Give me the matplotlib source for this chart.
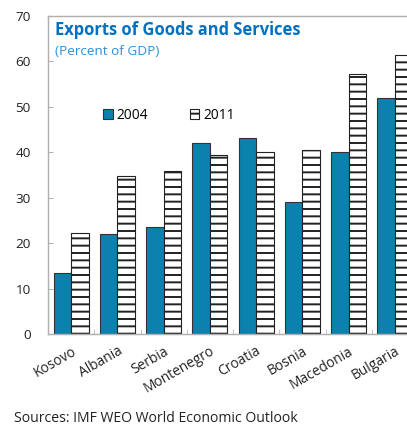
import matplotlib
matplotlib.use('Agg')
import matplotlib.pyplot as plt
import numpy as np

paises = ['Kosovo', 'Albania', 'Serbia', 'Montenegro', 'Croatia',
          'Bosnia', 'Macedonia', 'Bulgaria']
exp_2004 = [13.4, 22.0, 23.6, 42.1, 43.2, 29.1, 40.1, 52.0]
exp_2011 = [22.2, 34.8, 35.9, 39.4, 40.1, 40.5, 57.3, 61.4]
anos = ['2004', '2011']

COR_AZUL = '#0B82AD'
COR_TITULO = '#0070C0'
COR_SUB = '#2E8FD8'
COR_EIXO = '#B0B0B0'
COR_TEXTO = '#222222'

DPI = 88
plt.rcParams['font.family'] = ['Open Sans', 'DejaVu Sans']
plt.rcParams['hatch.linewidth'] = 1.6

fig = plt.figure(figsize=(407 / DPI, 429 / DPI), dpi=DPI)
W, H = 407, 429
ax = fig.add_axes([48 / W, 1 - 334 / H, 370 / W, 318 / H])

x = np.arange(len(paises))
w = 0.38
ax.bar(x - w / 2, exp_2004, w, color=COR_AZUL, edgecolor='#333333',
       linewidth=0.9, label=anos[0])
ax.bar(x + w / 2, exp_2011, w, color='white', edgecolor='#222222',
       linewidth=0.9, hatch='--', label=anos[1])

ax.set_xlim(-0.5, len(paises) - 0.5)
ax.set_ylim(0, 70)
ax.set_yticks(range(0, 71, 10))
ax.set_xticks(x)
ax.set_xticklabels(paises, rotation=30, ha='right', rotation_mode='anchor',
                   fontsize=11.3, color=COR_TEXTO)
ax.set_xticks(x[:-1] + 0.5, minor=True)
ax.tick_params(axis='x', which='major', length=0, pad=8)
ax.tick_params(axis='x', which='minor', direction='in', length=4,
               color=COR_EIXO)
ax.tick_params(axis='y', direction='in', length=4, color=COR_EIXO,
               labelsize=11, labelcolor=COR_TEXTO, pad=14)
for s in ax.spines.values():
    s.set_color(COR_EIXO)
    s.set_linewidth(1.2)

ax.text(0.018, 0.985, 'Exports of Goods and Services', transform=ax.transAxes,
        fontsize=13.5, fontweight='bold', color=COR_TITULO, va='top')
ax.text(0.018, 0.91, '(Percent of GDP)', transform=ax.transAxes,
        fontsize=11, color=COR_SUB, va='top')

ax.legend(loc='upper left', bbox_to_anchor=(0.115, 0.75), ncol=2,
          frameon=False, fontsize=11.3, handlelength=0.7, handleheight=0.7,
          handletextpad=0.3, columnspacing=3.0)

fig.text(14 / W, 1 - 418 / H, 'Sources: IMF WEO World Economic Outlook',
         fontsize=11.5, color=COR_TEXTO, va='center')

fig.savefig('out.png', dpi=DPI)
